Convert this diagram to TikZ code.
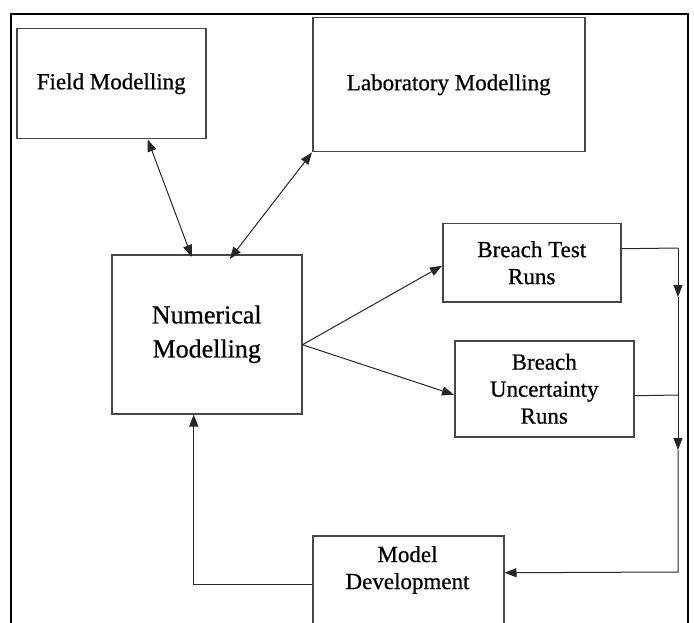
\documentclass[tikz,border=0pt]{standalone}
\usepackage{fontspec}
\setmainfont[FakeBold=0.6]{Liberation Serif}
\usetikzlibrary{arrows.meta}
\begin{document}
\begin{tikzpicture}[x=1pt,y=-1pt,
  box/.style={draw=black!72, line width=1.5pt, rectangle, inner sep=0pt,
    anchor=north west, align=center, font=\fontsize{23}{27}\selectfont},
  bigtext/.style={font=\fontsize{26}{34}\selectfont},
  lbl/.style={inner sep=0pt, align=center, font=\fontsize{23}{27}\selectfont},
  conn/.style={draw=black!85, line width=1pt},
  tip/.style={-{Triangle[length=12pt,width=9pt]}},
  dtip/.style={{Triangle[length=12pt,width=9pt]}-{Triangle[length=12pt,width=9pt]}},
  frame/.style={draw=black, line width=2pt}]
\useasboundingbox (0,0) rectangle (694,623);
\clip (0,0) rectangle (694,623);
\fill[white] (0,0) rectangle (694,623);
% outer frame (bottom cut off)
\draw[frame] (11,660) -- (11,14) -- (688,14) -- (688,660);
% boxes
\node[box, minimum width=189pt, minimum height=110pt] (fm) at (16,28) {Field Modelling};
\node[box, minimum width=272pt, minimum height=134pt] (lm) at (312,17) {Laboratory Modelling};
\node[box, bigtext, minimum width=190pt, minimum height=159pt] (nm) at (111,254) {Numerical\\Modelling};
\node[box, minimum width=178pt, minimum height=78pt] (bt) at (442,223) {Breach Test\\Runs};
\node[box, minimum width=179pt, minimum height=96pt] (bu) at (454,340) {Breach\\Uncertainty\\Runs};
\node[box, minimum width=191pt, minimum height=98pt] (md) at (312,535) {};
\node[lbl] (mdt) at (407.5,570) {Model\\Development};
% connectors
\draw[conn,dtip] ([xshift=36.5pt]fm.south) -- ([xshift=-15pt,yshift=-3pt]nm.north);
\draw[conn,dtip] (lm.south west) -- ([xshift=23pt,yshift=-5pt]nm.north);
\draw[conn,tip] ([yshift=-10.5pt]nm.east) -- ([yshift=-3pt]bt.west);
\draw[conn,tip] ([yshift=-10.5pt]nm.east) -- ([yshift=-6pt]bu.west);
\coordinate (r1) at (678,248);
\coordinate (rA) at (678,297);
\coordinate (r2) at (678,395);
\coordinate (rB) at (678,450);
\coordinate (r3) at (678,572);
\draw[conn] ([yshift=14pt]bt.east) -- (r1);
\draw[conn,tip] (r1) -- (rA);
\draw[conn] (rA) -- (r2);
\draw[conn] ([yshift=-7pt]bu.east) -- (r2);
\draw[conn,tip] (r2) -- (rB);
\draw[conn,tip] (rB) -- (r3) -- ([yshift=12pt]md.east);
\draw[conn,tip] (md.west) -| ([xshift=-13pt]nm.south);
\end{tikzpicture}
\end{document}
